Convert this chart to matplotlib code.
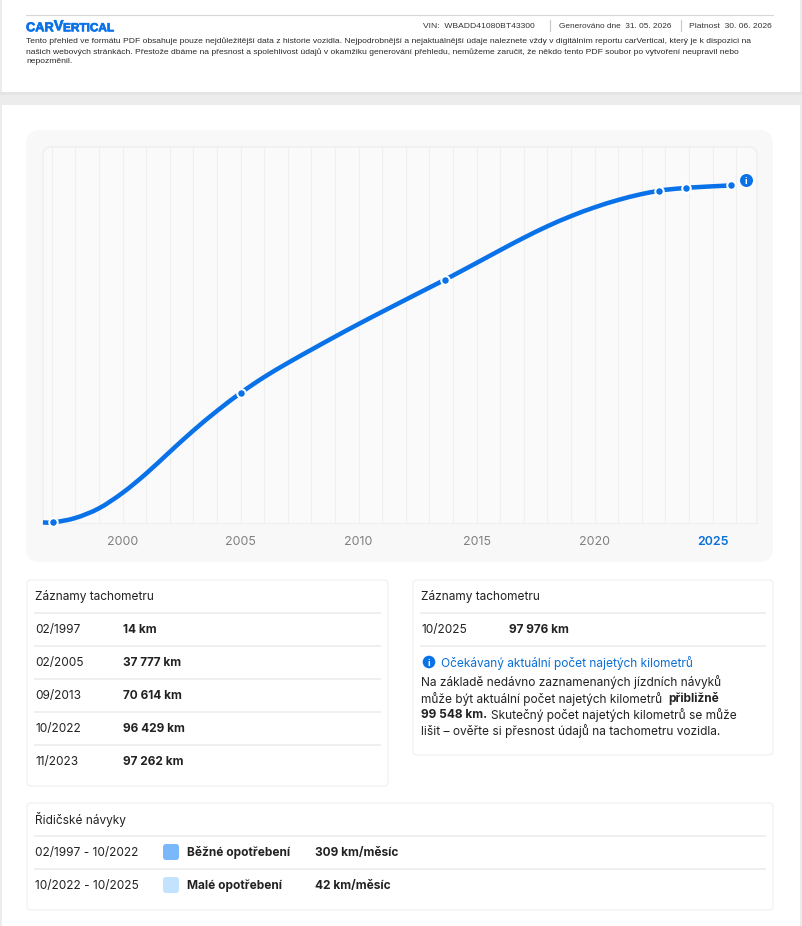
import matplotlib
matplotlib.use("Agg")
import matplotlib.pyplot as plt
import matplotlib.patheffects as pe
from matplotlib.patches import FancyBboxPatch, Rectangle, Circle, PathPatch
from matplotlib.path import Path

# ---- data ----
curve_years = [1996.63, 1997.05, 1998, 1999, 2000, 2001, 2002, 2003, 2004, 2005.03, 2006, 2007,
               2008, 2009, 2010, 2011, 2012, 2013, 2013.67, 2014, 2015, 2016, 2017, 2018, 2019,
               2020, 2021, 2022, 2022.74, 2023, 2023.86, 2024, 2025, 2025.78, 2026.0]
curve_km = [14, 14, 1314, 4114, 8614, 14214, 20514, 26714, 32414, 37777, 42264, 46364,
            50220, 54000, 57680, 61250, 64770, 68270, 70614, 71790, 75450, 79150, 82750, 86100, 89050,
            91600, 93750, 95480, 96429, 96720, 97262, 97340, 97730, 97976, 98040]
record_years = [1997.05, 2005.03, 2013.67, 2022.74, 2023.86, 2025.78]
record_km = [14, 37777, 70614, 96429, 97262, 97976]
expected_year = [2026.42]
expected_km = [99548]
grid_years = list(range(1997, 2027))
label_years = [2000, 2005, 2010, 2015, 2020, 2025]

records_left = [("02/1997", "14 km"), ("02/2005", "37 777 km"), ("09/2013", "70 614 km"),
                ("10/2022", "96 429 km"), ("11/2023", "97 262 km")]
records_right = [("10/2025", "97 976 km")]
habits = [("02/1997 - 10/2022", "Běžné opotřebení", "309 km/měsíc", "#7ab8f9"),
          ("10/2022 - 10/2025", "Malé opotřebení", "42 km/měsíc", "#c2e2fe")]
header_lines = [
    "Tento přehled ve formátu PDF obsahuje pouze nejdůležitější data z historie vozidla. Nejpodrobnější a nejaktuálnější údaje naleznete vždy v digitálním reportu carVertical, který je k dispozici na",
    "našich webových stránkách. Přestože dbáme na přesnost a spolehlivost údajů v okamžiku generování přehledu, nemůžeme zaručit, že někdo tento PDF soubor po vytvoření neupravil nebo",
    "nepozměnil.",
]

BLUE = "#0a72e8"
INK = "#222222"
LINE = "#efefef"
W, H = 802, 926
BODY = 11.9
HF = "Liberation Sans"
plt.rcParams["font.family"] = ["Inter", "DejaVu Sans"]

fig = plt.figure(figsize=(W / 100, H / 100), dpi=100, facecolor="white")
bg = fig.add_axes([0, 0, 1, 1], zorder=0)
bg.set_xlim(0, W)
bg.set_ylim(H, 0)
bg.axis("off")


def px(size):
    return size * 72 / 100


def card(x0, y0, x1, y1, r=4, fc="white", ec="#efefef"):
    bg.add_patch(FancyBboxPatch((x0, y0), x1 - x0, y1 - y0, boxstyle=f"round,pad=0,rounding_size={r}",
                                fc=fc, ec=ec, lw=0.8))


def t(x, y, s, size=BODY, color=INK, weight="normal", ha="left", **kw):
    dy = 0 if "family" in kw else 0.8
    return bg.text(x, y + dy, s, fontsize=px(size), color=color, fontweight=weight, ha=ha, va="center", **kw)


# page background
bg.add_patch(Rectangle((0, 0), W, H, fc="#ececec", ec="none"))
bg.add_patch(Rectangle((2, 0), 798, 92, fc="white", ec="none"))
bg.add_patch(Rectangle((2, 105), 798, H - 105, fc="white", ec="none"))
bg.add_patch(Rectangle((0, 92), W, 3, fc="#e4e4e4", ec="none"))

# header
bg.plot([26, 773], [15, 15], color="#d8d8d8", lw=0.8)
thick = [pe.withStroke(linewidth=0.5, foreground=BLUE)]
t(26, 28.3, "CAR", size=12.8, color=BLUE, weight="bold", family=HF, path_effects=thick)
t(53.8, 26.2, "V", size=14.5, color=BLUE, weight="bold", family=HF, path_effects=thick)
t(63, 28.3, "ERTICAL", size=11.8, color=BLUE, weight="bold", family=HF, path_effects=thick)
t(423, 26.2, "VIN:  WBADD41080BT43300", size=8.45, color="#333333", family=HF)
t(559, 26.2, "Generováno dne  31. 05. 2026", size=8.3, color="#333333", family=HF)
t(689, 26.2, "Platnost  30. 06. 2026", size=8.45, color="#333333", family=HF)
for sx in (550, 680.5):
    bg.plot([sx, sx], [20, 31], color="#c8c8c8", lw=0.8)
for yy, line, sz in zip((41, 51.7, 61.7), header_lines, (8.5, 8.5, 8.5)):
    t(26, yy, line, size=sz, color="#2a2a2a", family=HF)

# chart panel
card(26, 130, 773, 562, r=14, fc="#f8f8f8", ec="none")
frame = FancyBboxPatch((43, 147), 714, 420, boxstyle="round,pad=0,rounding_size=8", fc="#fafafa", ec=LINE, lw=1)
bg.add_patch(frame)
frame.set_clip_path(Rectangle((40, 140), 720, 382.5, transform=bg.transData))

AL, AR, AT, AB = 43, 757, 147, 522.5
ax = fig.add_axes([AL / W, 1 - AB / H, (AR - AL) / W, (AB - AT) / H], zorder=1)
ax.patch.set_alpha(0)
PX_YEAR = 23.6
ax.set_xlim(2000 + (AL - 122.5) / PX_YEAR, 2000 + (AR - 122.5) / PX_YEAR)
ax.set_ylim(0, (AB - AT) / 0.00344)
for s in ("top", "left", "right"):
    ax.spines[s].set_visible(False)
ax.spines["bottom"].set_color(LINE)
ax.set_yticks([])
ax.set_xticks(label_years)
ax.set_xticklabels([str(y) for y in label_years], fontsize=px(12.4), color="#808080")
ax.tick_params(axis="x", length=0, pad=9.5)
ax.get_xticklabels()[-1].set_color("#0a6fd6")
ax.get_xticklabels()[-1].set_fontweight("semibold")
ax.vlines(grid_years, 0, 1, transform=ax.get_xaxis_transform(), color=LINE, lw=0.8, zorder=1)

# smooth stroke through the read values: cubic Bezier segments with finite-difference tangents
n = len(curve_years)
slopes = []
for i in range(n):
    a, b = max(i - 1, 0), min(i + 1, n - 1)
    slopes.append((curve_km[b] - curve_km[a]) / (curve_years[b] - curve_years[a]))
verts, codes = [(curve_years[0], curve_km[0])], [Path.MOVETO]
for i in range(n - 1):
    h = (curve_years[i + 1] - curve_years[i]) / 3
    verts += [(curve_years[i] + h, curve_km[i] + slopes[i] * h),
              (curve_years[i + 1] - h, curve_km[i + 1] - slopes[i + 1] * h),
              (curve_years[i + 1], curve_km[i + 1])]
    codes += [Path.CURVE4] * 3
ax.add_patch(PathPatch(Path(verts, codes), fc="none", ec=BLUE, lw=px(4.5), capstyle="butt", joinstyle="round",
                       clip_on=False, zorder=3))
ax.plot(record_years, record_km, ls="none", marker="o", ms=px(8.5), mfc=BLUE, mec="white", mew=px(2),
        clip_on=False, zorder=4)
ax.plot(expected_year, expected_km, ls="none", marker="o", ms=px(13), mfc=BLUE, mec="none",
        clip_on=False, zorder=5)
ax.text(expected_year[0], expected_km[0], "i", color="white", fontsize=px(9.5), fontweight="bold",
        ha="center", va="center_baseline", zorder=6)

# odometer cards
card(27, 580, 388, 786)
t(35, 596, "Záznamy tachometru")
for i, (d, v) in enumerate(records_left):
    y = 629 + 33 * i
    bg.plot([35, 380], [y - 16.3, y - 16.3], color=LINE, lw=1.4)
    t(35, y, d)
    t(123, y, v, weight="bold")

card(413, 580, 773, 755)
t(421, 596, "Záznamy tachometru")
bg.plot([421, 765], [612.7, 612.7], color=LINE, lw=1.4)
bg.plot([421, 765], [645.7, 645.7], color=LINE, lw=1.4)
t(421, 629, records_right[0][0])
t(509, 629, records_right[0][1], weight="bold")
bg.add_patch(Circle((429, 662), 6.3, fc=BLUE, ec="none"))
bg.text(429, 662, "i", fontsize=px(9.5), color="white", fontweight="bold", ha="center", va="center_baseline")
t(441, 662, "Očekávaný aktuální počet najetých kilometrů", color="#0a6fd6")
t(421, 681.5, "Na základě nedávno zaznamenaných jízdních návyků")
t(421, 697.8, "může být aktuální počet najetých kilometrů")
t(668, 697.8, "přibližně", weight="bold")
t(421, 713.8, "99 548 km.", weight="bold")
t(491, 713.8, "Skutečný počet najetých kilometrů se může")
t(421, 730, "lišit – ověřte si přesnost údajů na tachometru vozidla.")

# driving habits
card(27, 803, 773, 910)
t(35, 819, "Řidičské návyky")
for i, (d, lab, val, col) in enumerate(habits):
    y = 852 + 33 * i
    bg.plot([35, 765], [y - 16.3, y - 16.3], color=LINE, lw=1.4)
    t(35, y, d)
    bg.add_patch(FancyBboxPatch((163, y - 8), 16, 16, boxstyle="round,pad=0,rounding_size=3", fc=col, ec="none"))
    t(187, y, lab, weight="bold")
    t(315, y, val, weight="bold")

fig.savefig("out.png", dpi=100)
